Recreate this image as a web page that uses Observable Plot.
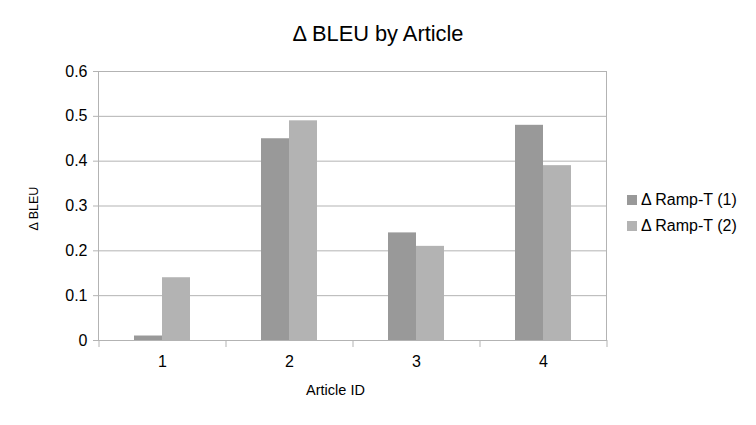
<!DOCTYPE html>
<html>
<head>
<meta charset="utf-8">
<script src="https://cdn.jsdelivr.net/npm/d3@7"></script>
<script src="https://cdn.jsdelivr.net/npm/@observablehq/plot@0.6"></script>
<style>
  body { margin: 0; background: #fff; font-family: "Liberation Sans", Arial, sans-serif; }
  #wrap { position: relative; width: 756px; height: 425px; overflow: hidden; }
  #title { position: absolute; left: 0; top: 21px; width: 756px; text-align: center; font-size: 21.8px; line-height: 26px; color: #000; }
  #chart { position: absolute; left: 0; top: 60px; }
  #legend { position: absolute; left: 627px; top: 187px; font-size: 16px; color: #000; }
  .row { display: flex; align-items: center; height: 26px; }
  .sw { width: 10px; height: 10px; margin-right: 4px; }
</style>
</head>
<body>
<div id="wrap">
  <div id="title"></div>
  <div id="chart"></div>
  <div id="legend"></div>
</div>
<script>
const title = "Δ BLEU by Article";
const xLabel = "Article ID";
const yLabel = "Δ BLEU";
const articles = ["1", "2", "3", "4"];
const seriesNames = ["Δ Ramp-T (1)", "Δ Ramp-T (2)"];
const series1 = [0.01, 0.45, 0.24, 0.48];
const series2 = [0.14, 0.49, 0.21, 0.39];
const yTicks = [0, 0.1, 0.2, 0.3, 0.4, 0.5, 0.6];
const colors = ["#999999", "#b3b3b3"];

const data = [];
articles.forEach((a, i) => {
  data.push({article: a, series: seriesNames[0], value: series1[i]});
  data.push({article: a, series: seriesNames[1], value: series2[i]});
});

document.getElementById("title").textContent = title;

const grid = "#b3b3b3";
const plot = Plot.plot({
  width: 756,
  height: 365,
  marginLeft: 98,
  marginRight: 150,
  marginTop: 11,
  marginBottom: 85,
  style: {fontFamily: "Liberation Sans, Arial, sans-serif", background: "white", color: "#000"},
  x: {domain: articles, paddingInner: 1 - 28 / 127, paddingOuter: (1 - 28 / 127) / 2, align: 0.5, axis: null},
  y: {domain: [0, 0.6], axis: null},
  color: {domain: seriesNames, range: colors},
  marks: [
    Plot.gridY(yTicks, {stroke: grid, strokeOpacity: 1}),
    Plot.barY(data.filter(d => d.series === seriesNames[0]), {x: "article", y: "value", fill: "series", dx: -14, inset: 0}),
    Plot.barY(data.filter(d => d.series === seriesNames[1]), {x: "article", y: "value", fill: "series", dx: 14, inset: 0}),
    Plot.frame({stroke: grid}),
    Plot.axisY(yTicks, {tickSize: 5, tickPadding: 6, stroke: grid, strokeOpacity: 1, fontSize: 16, tickFormat: d => String(d), color: "#000", label: null}),
    Plot.axisX(articles, {tickSize: 7, text: null, dx: -63.5, stroke: grid, strokeOpacity: 1, label: null}),
    Plot.axisX([articles[articles.length - 1]], {tickSize: 7, text: null, dx: 63.5, stroke: grid, strokeOpacity: 1, label: null}),
    Plot.axisX(articles, {tickSize: 0, tickPadding: 15, fontSize: 16, color: "#000", label: null}),
    Plot.text([yLabel], {frameAnchor: "left", textAnchor: "middle", lineAnchor: "middle", rotate: -90, dx: -65, dy: 2.5, fontSize: 12.5, fill: "#000"}),
    Plot.text([xLabel], {frameAnchor: "bottom", textAnchor: "middle", lineAnchor: "middle", dx: -17, dy: 49.5, fontSize: 14.5, fill: "#000"})
  ]
});
document.getElementById("chart").appendChild(plot);

const legend = document.getElementById("legend");
seriesNames.forEach((name, i) => {
  const row = document.createElement("div");
  row.className = "row";
  const sw = document.createElement("div");
  sw.className = "sw";
  sw.style.background = colors[i];
  const t = document.createElement("span");
  t.textContent = name;
  row.appendChild(sw);
  row.appendChild(t);
  legend.appendChild(row);
});
</script>
</body>
</html>
